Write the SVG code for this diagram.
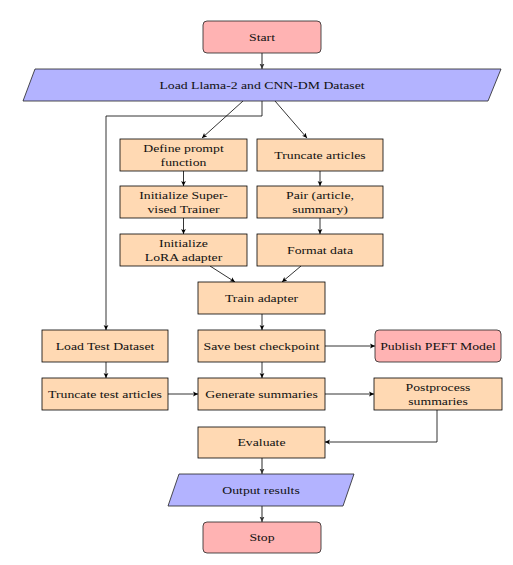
<svg xmlns="http://www.w3.org/2000/svg" width="513" height="565" viewBox="0 0 513 565">
<style>
.box{fill:#FFD9B3;stroke:#000;stroke-width:0.8}
.term{fill:#FFB3B3;stroke:#222;stroke-width:0.8}
.io{fill:#B3B3FF;stroke:#222;stroke-width:0.8}
.t{font-family:"Liberation Serif","Times New Roman",serif;font-size:11px;fill:#111;text-anchor:middle}
.c{fill:none;stroke:#000;stroke-width:0.8;marker-end:url(#ah)}
.g{fill:none;stroke:#666;stroke-width:1.4;marker-end:url(#ahg)}
</style>
<defs>
<marker id="ah" markerUnits="userSpaceOnUse" markerWidth="6" markerHeight="6" refX="5" refY="3" orient="auto">
<path d="M0,0.6 L5,3 L0,5.4 L1.2,3 z" fill="#000"/>
</marker>
<marker id="ahg" markerUnits="userSpaceOnUse" markerWidth="7" markerHeight="7" refX="5.5" refY="3.5" orient="auto">
<path d="M0,1 L5.5,3.5 L0,6 L1.3,3.5 z" fill="#333"/>
</marker>
</defs>
<g id="connectors">
<path class="g" d="M262,53 V69"/>
<path class="c" d="M243,101 L202,138"/>
<path class="c" d="M275,101 L307,138"/>
<path class="c" d="M262,101 V116 H106 V330"/>
<path class="c" d="M183.5,171 V186"/>
<path class="c" d="M183.5,218 V234"/>
<path class="c" d="M320,171 V186"/>
<path class="c" d="M320,218 V234"/>
<path class="c" d="M210,266 L235,282"/>
<path class="c" d="M301,266 L282,282"/>
<path class="c" d="M262,314 V330"/>
<path class="c" d="M325,346 H375"/>
<path class="c" d="M262,362 V378"/>
<path class="c" d="M106,362 V378"/>
<path class="c" d="M168,394 H198"/>
<path class="c" d="M325,394 H374"/>
<path class="c" d="M437,410 V442 H325"/>
<path class="g" d="M262,458 V474"/>
<path class="g" d="M262,506 V522"/>
</g>
<g id="start"><rect class="term" x="203" y="21" width="118" height="32" rx="4"/><text class="t" transform="translate(262,40.8) scale(1.25,1)">Start</text></g>
<g id="load"><polygon class="io" points="35,69 501,69 488,101 23,101"/><text class="t" transform="translate(262,88.8) scale(1.25,1)">Load Llama-2 and CNN-DM Dataset</text></g>
<g id="define"><rect class="box" x="120" y="139" width="127" height="32"/><text class="t" transform="translate(183.5,151.5) scale(1.25,1)">Define prompt</text><text class="t" transform="translate(183.5,165.5) scale(1.25,1)">function</text></g>
<g id="truncate"><rect class="box" x="257" y="139" width="126" height="32"/><text class="t" transform="translate(320,158.8) scale(1.25,1)">Truncate articles</text></g>
<g id="initsup"><rect class="box" x="120" y="186" width="127" height="32"/><text class="t" transform="translate(183.5,198.5) scale(1.25,1)">Initialize Super-</text><text class="t" transform="translate(183.5,212.5) scale(1.25,1)">vised Trainer</text></g>
<g id="pair"><rect class="box" x="257" y="186" width="126" height="32"/><text class="t" transform="translate(320,198.5) scale(1.25,1)">Pair (article,</text><text class="t" transform="translate(320,212.5) scale(1.25,1)">summary)</text></g>
<g id="initlora"><rect class="box" x="120" y="234" width="127" height="32"/><text class="t" transform="translate(183.5,246.5) scale(1.25,1)">Initialize</text><text class="t" transform="translate(183.5,260.5) scale(1.25,1)">LoRA adapter</text></g>
<g id="format"><rect class="box" x="257" y="234" width="126" height="32"/><text class="t" transform="translate(320,253.8) scale(1.25,1)">Format data</text></g>
<g id="train"><rect class="box" x="198" y="282" width="127" height="32"/><text class="t" transform="translate(261.5,301.8) scale(1.25,1)">Train adapter</text></g>
<g id="loadtest"><rect class="box" x="42" y="330" width="126" height="32"/><text class="t" transform="translate(105,349.8) scale(1.25,1)">Load Test Dataset</text></g>
<g id="save"><rect class="box" x="198" y="330" width="127" height="32"/><text class="t" transform="translate(261.5,349.8) scale(1.25,1)">Save best checkpoint</text></g>
<g id="publish"><rect class="term" x="375" y="330" width="126" height="32" rx="4"/><text class="t" transform="translate(438,349.8) scale(1.25,1)">Publish PEFT Model</text></g>
<g id="trunctest"><rect class="box" x="42" y="378" width="126" height="32"/><text class="t" transform="translate(105,397.8) scale(1.25,1)">Truncate test articles</text></g>
<g id="generate"><rect class="box" x="198" y="378" width="127" height="32"/><text class="t" transform="translate(261.5,397.8) scale(1.25,1)">Generate summaries</text></g>
<g id="postprocess"><rect class="box" x="374" y="378" width="128" height="32"/><text class="t" transform="translate(438,390.5) scale(1.25,1)">Postprocess</text><text class="t" transform="translate(438,404.5) scale(1.25,1)">summaries</text></g>
<g id="evaluate"><rect class="box" x="198" y="427" width="127" height="31"/><text class="t" transform="translate(261.5,446.3) scale(1.25,1)">Evaluate</text></g>
<g id="output"><polygon class="io" points="179,474 354,474 343,506 168,506"/><text class="t" transform="translate(261,493.8) scale(1.25,1)">Output results</text></g>
<g id="stop"><rect class="term" x="203" y="522" width="118" height="31" rx="4"/><text class="t" transform="translate(262,541.3) scale(1.25,1)">Stop</text></g>
</svg>
